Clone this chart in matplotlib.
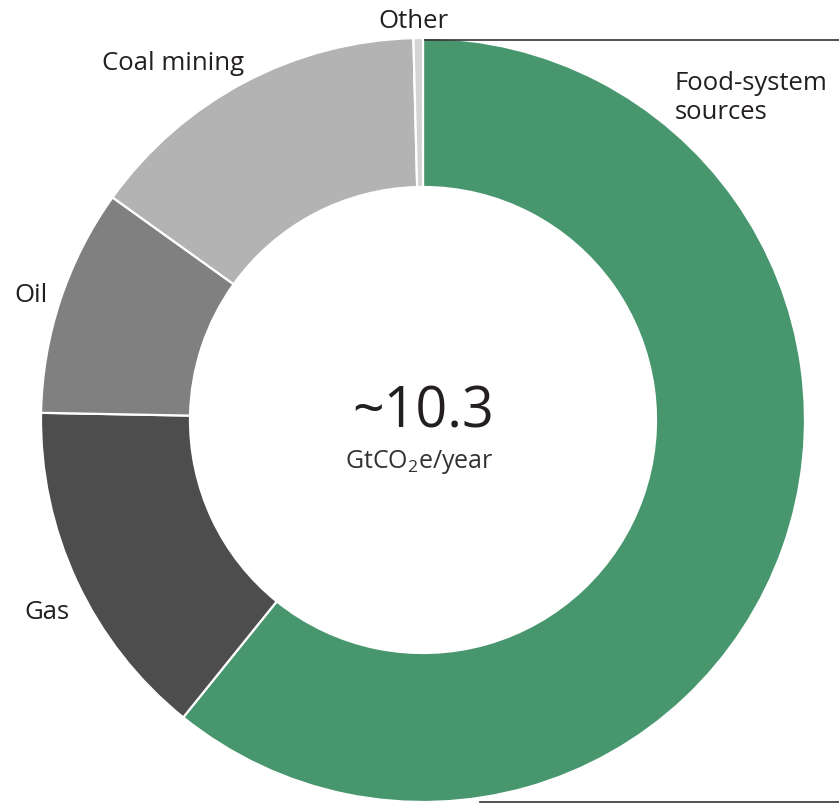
import matplotlib.pyplot as plt

# share of methane emissions by source, % of ~10.3 GtCO2e/year
sources = ["Food-system\nsources", "Gas", "Oil", "Coal mining", "Other"]
shares = [60.8, 14.5, 9.6, 14.7, 0.4]
colors = ["#47966e", "#4d4d4d", "#808080", "#b3b3b3", "#d4d4d4"]
total_label = "~10.3"
unit_label = "GtCO$_2$e/year"

W, H = 839, 804
plt.rcParams["font.family"] = ["Open Sans", "DejaVu Sans"]
plt.rcParams["mathtext.fontset"] = "custom"
plt.rcParams["mathtext.rm"] = "Open Sans"
plt.rcParams["mathtext.it"] = "Open Sans"

fig = plt.figure(figsize=(W / 100, H / 100), dpi=100)
ax = fig.add_axes([0, 0, 1, 1])


def py(y):
    # pixel row -> data y (axes run bottom-up)
    return H - y


ax.pie(shares, colors=colors, startangle=90, counterclock=False,
       center=(423, py(421)), radius=382,
       wedgeprops=dict(width=149, edgecolor="white", linewidth=1.6))

ax.set_xlim(0, W)
ax.set_ylim(0, H)
ax.set_aspect("equal")
ax.axis("off")

txt = "#231f20"
ax.text(423, py(413), total_label, ha="center", va="center",
        fontsize=40, color=txt)
ax.text(419, py(462), unit_label, ha="center", va="center",
        fontsize=18, color="#333333")

lab = dict(fontsize=18.5, color=txt, va="center")
ax.text(675, py(98), sources[0], ha="left", linespacing=1.25, **lab)
ax.text(24, py(613), sources[1], ha="left", **lab)
ax.text(14, py(296), sources[2], ha="left", **lab)
ax.text(102, py(63), sources[3], ha="left", **lab)
ax.text(378, py(21), sources[4], ha="left", **lab)

# bracket lines for the food-system slice
ax.plot([425, W], [py(41), py(41)], color="#333333", lw=1.2)
ax.plot([480, W], [py(803), py(803)], color="#333333", lw=1.2)

fig.savefig("out.png", dpi=100)
